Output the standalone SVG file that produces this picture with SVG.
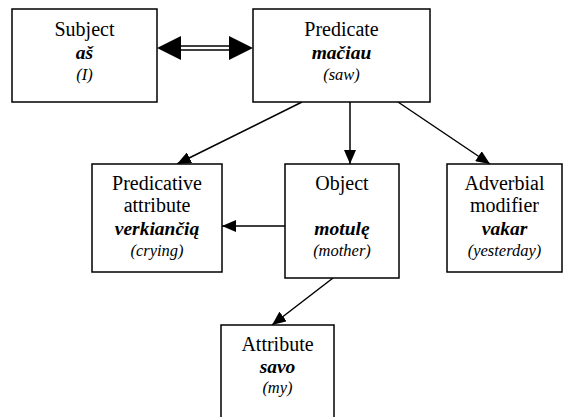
<svg xmlns="http://www.w3.org/2000/svg" width="564" height="417" viewBox="0 0 564 417">
<style>
.box{fill:#fff;stroke:#000;stroke-width:1.5}
text{font-family:"Liberation Serif","DejaVu Serif","Times New Roman",serif;text-anchor:middle;fill:#000}
.r{font-size:20px}
.b{font-size:19.5px;font-weight:bold;font-style:italic}
.i{font-size:16.5px;font-style:italic}
.c{stroke:#000;stroke-width:1.5;fill:none}
</style>
<defs>
<marker id="ah" markerWidth="14" markerHeight="12" refX="14" refY="6" orient="auto" markerUnits="userSpaceOnUse">
<path d="M0,0 L14,6 L0,12 Z" fill="#000"/>
</marker>
</defs>
<rect width="564" height="417" fill="#fff"/>
<g id="connectors">
<line class="c" x1="179" y1="46" x2="232" y2="46"/>
<line class="c" x1="179" y1="50" x2="232" y2="50"/>
<path d="M157,48 L181,36 L181,60 Z" fill="#000"/>
<path d="M253,48 L229,36 L229,60 Z" fill="#000"/>
<line class="c" x1="302" y1="102" x2="177" y2="164" marker-end="url(#ah)"/>
<line class="c" x1="350" y1="102" x2="350" y2="164" marker-end="url(#ah)"/>
<line class="c" x1="398" y1="102" x2="490" y2="164" marker-end="url(#ah)"/>
<line class="c" x1="285" y1="226" x2="222" y2="226" marker-end="url(#ah)"/>
<line class="c" x1="333" y1="278" x2="272" y2="325" marker-end="url(#ah)"/>
</g>
<g id="subject">
<rect class="box" x="12" y="9" width="145" height="93"/>
<text class="r" x="84.5" y="36">Subject</text>
<text class="b" x="84.5" y="59">aš</text>
<text class="i" x="84.5" y="80">(I)</text>
</g>
<g id="predicate">
<rect class="box" x="253" y="9" width="177" height="93"/>
<text class="r" x="341.5" y="36">Predicate</text>
<text class="b" x="341.5" y="59">mačiau</text>
<text class="i" x="341.5" y="80">(saw)</text>
</g>
<g id="predicative-attribute">
<rect class="box" x="92" y="164" width="130" height="108"/>
<text class="r" x="157" y="190">Predicative</text>
<text class="r" x="157" y="212">attribute</text>
<text class="b" x="157" y="235">verkiančią</text>
<text class="i" x="157" y="256">(crying)</text>
</g>
<g id="object">
<rect class="box" x="285" y="164" width="114" height="114"/>
<text class="r" x="342" y="190">Object</text>
<text class="b" x="342" y="235">motulę</text>
<text class="i" x="342" y="256">(mother)</text>
</g>
<g id="adverbial-modifier">
<rect class="box" x="447" y="164" width="115" height="108"/>
<text class="r" x="504.5" y="190">Adverbial</text>
<text class="r" x="504.5" y="212">modifier</text>
<text class="b" x="504.5" y="235">vakar</text>
<text class="i" x="504.5" y="256">(yesterday)</text>
</g>
<g id="attribute">
<rect class="box" x="221" y="325" width="113" height="100"/>
<text class="r" x="277.5" y="351">Attribute</text>
<text class="b" x="277.5" y="373">savo</text>
<text class="i" x="277.5" y="393">(my)</text>
</g>
</svg>
